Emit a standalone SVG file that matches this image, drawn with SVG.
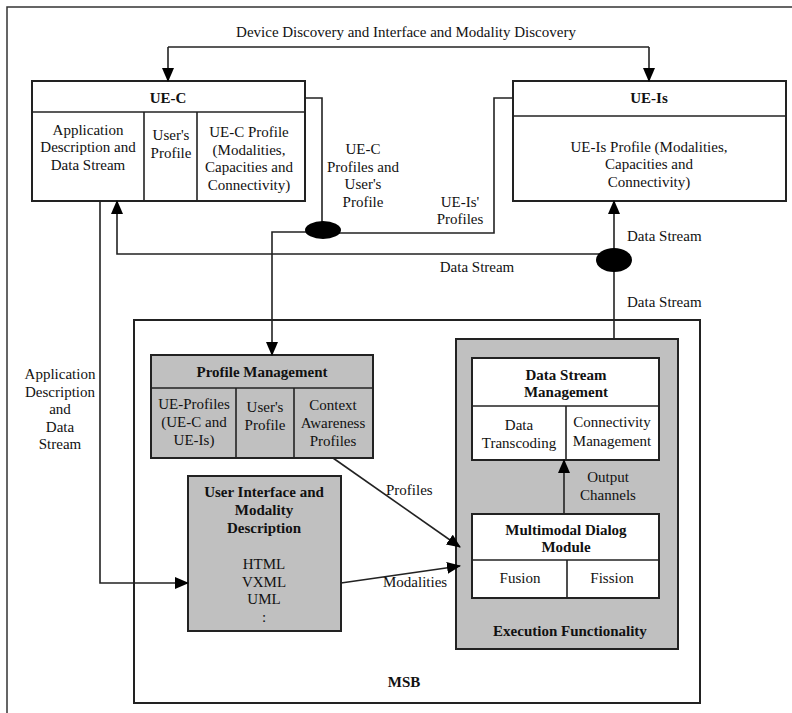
<svg xmlns="http://www.w3.org/2000/svg" width="792" height="713" viewBox="0 0 792 713" font-family="'Liberation Serif','Times New Roman',serif">
<defs>
<style>
text{font-family:"Liberation Serif","Times New Roman","DejaVu Serif",serif;font-size:15px;fill:#111;text-anchor:middle}
.b{font-weight:bold}
.l{text-anchor:start}
.box{fill:#fff;stroke:#222;stroke-width:2}
.gbox{fill:#c0c0c0;stroke:#222;stroke-width:2}
.ln{fill:none;stroke:#222;stroke-width:1.6}
.conn{fill:none;stroke:#222;stroke-width:1.6}
</style>
<marker id="ah" markerWidth="14" markerHeight="12" refX="13" refY="6" orient="auto" markerUnits="userSpaceOnUse">
<path d="M0,0 L14,6 L0,12 Z" fill="#000"/>
</marker>
</defs>
<rect x="0" y="0" width="792" height="713" fill="#fff"/>
<rect x="7" y="7" width="800" height="720" fill="none" stroke="#333" stroke-width="1.5"/>

<text x="406" y="37">Device Discovery and Interface and Modality Discovery</text>

<g id="ue-c">
<rect class="box" x="32" y="81" width="273" height="120"/>
<line class="ln" x1="32" y1="112" x2="305" y2="112"/>
<line class="ln" x1="144" y1="112" x2="144" y2="201"/>
<line class="ln" x1="197" y1="112" x2="197" y2="201"/>
<text class="b" x="168" y="103">UE-C</text>
<text x="88" y="135">Application</text>
<text x="88" y="152">Description and</text>
<text x="88" y="170">Data Stream</text>
<text x="171" y="140">User's</text>
<text x="171" y="158">Profile</text>
<text x="249" y="137">UE-C Profile</text>
<text x="249" y="155">(Modalities,</text>
<text x="249" y="172">Capacities and</text>
<text x="249" y="190">Connectivity)</text>
</g>

<g id="ue-is">
<rect class="box" x="513" y="81" width="273" height="120"/>
<line class="ln" x1="513" y1="116" x2="786" y2="116"/>
<text class="b" x="649" y="103">UE-Is</text>
<text x="649" y="152">UE-Is Profile (Modalities,</text>
<text x="649" y="169">Capacities and</text>
<text x="649" y="187">Connectivity)</text>
</g>

<g id="msb">
<rect x="134" y="320" width="566" height="383" fill="#fff" stroke="#222" stroke-width="2"/>
<text class="b" x="404" y="687">MSB</text>
</g>

<g id="profile-management">
<rect class="gbox" x="151" y="355" width="222" height="103"/>
<line class="ln" x1="151" y1="388" x2="373" y2="388"/>
<line class="ln" x1="236" y1="388" x2="236" y2="458"/>
<line class="ln" x1="294" y1="388" x2="294" y2="458"/>
<text class="b" x="262" y="377">Profile Management</text>
<text x="194" y="409">UE-Profiles</text>
<text x="194" y="427">(UE-C and</text>
<text x="194" y="445">UE-Is)</text>
<text x="265" y="412">User's</text>
<text x="265" y="430">Profile</text>
<text x="333" y="410">Context</text>
<text x="333" y="428">Awareness</text>
<text x="333" y="446">Profiles</text>
</g>

<g id="ui-modality">
<rect class="gbox" x="188" y="476" width="153" height="155"/>
<text class="b" x="264" y="497">User Interface and</text>
<text class="b" x="264" y="515">Modality</text>
<text class="b" x="264" y="533">Description</text>
<text x="264" y="569">HTML</text>
<text x="264" y="587">VXML</text>
<text x="264" y="604">UML</text>
<text x="264" y="622">:</text>
</g>

<g id="execution-functionality">
<rect class="gbox" x="456" y="339" width="222" height="310"/>
<text class="b" x="570" y="636">Execution Functionality</text>
</g>

<g id="data-stream-management">
<rect class="box" x="472" y="358" width="187" height="102"/>
<line class="ln" x1="472" y1="406" x2="659" y2="406"/>
<line class="ln" x1="566" y1="406" x2="566" y2="460"/>
<text class="b" x="566" y="380">Data Stream</text>
<text class="b" x="566" y="397">Management</text>
<text x="519" y="430">Data</text>
<text x="519" y="448">Transcoding</text>
<text x="612" y="427">Connectivity</text>
<text x="612" y="446">Management</text>
</g>

<g id="multimodal-dialog">
<rect class="box" x="472" y="514" width="187" height="84"/>
<line class="ln" x1="472" y1="560" x2="659" y2="560"/>
<line class="ln" x1="567" y1="560" x2="567" y2="598"/>
<text class="b" x="566" y="535">Multimodal Dialog</text>
<text class="b" x="566" y="552">Module</text>
<text x="520" y="583">Fusion</text>
<text x="612" y="583">Fission</text>
</g>

<g id="connectors">
<path class="conn" d="M168,47 H649"/>
<path class="conn" d="M168,47 V81" marker-end="url(#ah)"/>
<path class="conn" d="M649,47 V81" marker-end="url(#ah)"/>
<path class="conn" d="M305,98 H322 V230"/>
<path class="conn" d="M513,98 H494 V233 H323"/>
<path class="conn" d="M323,232 H272 V355" marker-end="url(#ah)"/>
<ellipse cx="323" cy="230" rx="18" ry="9" fill="#000"/>
<path class="conn" d="M614,254 H117 V201" marker-end="url(#ah)"/>
<path class="conn" d="M614,260 V201" marker-end="url(#ah)"/>
<path class="conn" d="M614,260 V339"/>
<ellipse cx="614" cy="260" rx="18" ry="12" fill="#000"/>
<path class="conn" d="M100,201 V583 H188" marker-end="url(#ah)"/>
<path class="conn" d="M564,514 V460" marker-end="url(#ah)"/>
<path class="conn" d="M333,458 L460,547" marker-end="url(#ah)"/>
<path class="conn" d="M341,583 L460,566" marker-end="url(#ah)"/>
<text x="363" y="154">UE-C</text>
<text x="363" y="172">Profiles and</text>
<text x="363" y="189">User's</text>
<text x="363" y="207">Profile</text>
<text x="460" y="207">UE-Is'</text>
<text x="460" y="224">Profiles</text>
<text class="l" x="627" y="241">Data Stream</text>
<text x="477" y="272">Data Stream</text>
<text class="l" x="627" y="307">Data Stream</text>
<text x="60" y="379">Application</text>
<text x="60" y="397">Description</text>
<text x="60" y="414">and</text>
<text x="60" y="432">Data</text>
<text x="60" y="449">Stream</text>
<text class="l" x="386" y="495">Profiles</text>
<text class="l" x="383" y="587">Modalities</text>
<text x="608" y="482">Output</text>
<text x="608" y="500">Channels</text>
</g>
</svg>
